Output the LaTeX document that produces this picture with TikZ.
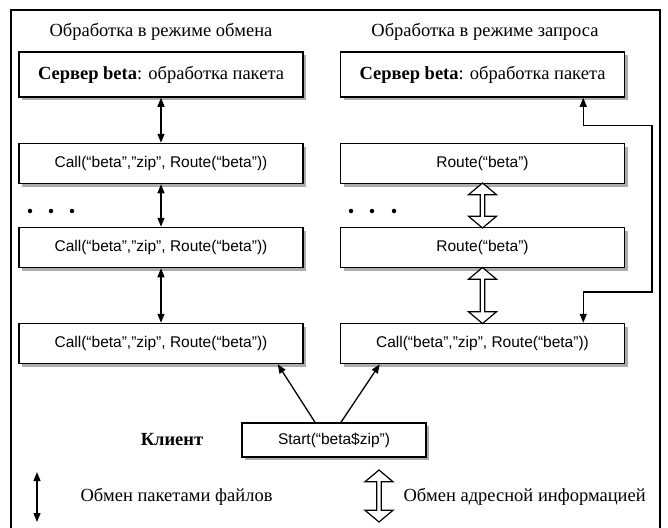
\documentclass[tikz,border=0pt]{standalone}
\usepackage{fontspec}
\setmainfont{Liberation Serif}
\setsansfont{Liberation Sans}
\usepackage{tikz}
\usetikzlibrary{shapes, arrows.meta, calc, shadows}

\begin{document}
\begin{tikzpicture}[
      x=1pt, y=-1pt,
      every node/.style={font=\fontsize{18.5}{20}\selectfont},
      box/.style={draw, line width=1.5pt, fill=white, minimum width=284pt, minimum height=40pt, inner sep=0pt,
        drop shadow={fill=gray!65, opacity=1, shadow xshift=3pt, shadow yshift=-3pt},
        font=\sffamily\fontsize{15.5}{18}\selectfont},
      srvbox/.style={box, minimum height=45pt, font=\fontsize{18.5}{20}\selectfont},
      fileflow/.style={{Triangle[width=7pt,length=9pt]}-{Triangle[width=7pt,length=9pt]}, line width=1.3pt},
      addrflow/.style={double arrow, draw, line width=1.2pt, fill=white, rotate=90, inner sep=0pt,
        minimum width=28pt, double arrow head extend=3pt, double arrow tip angle=100},
      dot/.style={circle, fill=black, inner sep=0pt, minimum size=4.5pt}
    ]
    \useasboundingbox (0,0) rectangle (668,527);
    % frame, open at the bottom
    \draw[line width=2pt] (11,530) -- (11,10) -- (660,10) -- (660,530);

    % headings
    \node (headl) at (161,32) {Обработка в режиме обмена};
    \node (headr) at (485,32) {Обработка в режиме запроса};

    % exchange mode column
    \node[srvbox] (srvl) at (161,74.5) {\textbf{Сервер beta}: обработка пакета};
    \node[box] (calla) at (161,163.5) {Call(“beta”,”zip”, Route(“beta”))};
    \node[box] (callb) at (161,247.5) {Call(“beta”,”zip”, Route(“beta”))};
    \node[box] (callc) at (161,343.5) {Call(“beta”,”zip”, Route(“beta”))};
    \foreach \x in {30,51,72} \node[dot] at (\x,211) {};
    \draw[fileflow] (srvl.south) -- (calla.north);
    \draw[fileflow] (calla.south) -- (callb.north);
    \draw[fileflow] (callb.south) -- (callc.north);

    % request mode column
    \node[srvbox] (srvr) at (482.5,74.5) {\textbf{Сервер beta}: обработка пакета};
    \node[box] (routea) at (482.5,163.5) {Route(“beta”)};
    \node[box] (routeb) at (482.5,247.5) {Route(“beta”)};
    \node[box] (callr) at (482.5,343.5) {Call(“beta”,”zip”, Route(“beta”))};
    \foreach \x in {351,372,394} \node[dot] at (\x,211) {};
    \node[addrflow, minimum height=45pt] at ($(routea.south)!0.5!(routeb.north)$) {};
    \node[addrflow, minimum height=56pt] at ($(routeb.south)!0.5!(callr.north)$) {};
    \draw[fileflow] ([xshift=-42pt]srvr.south east) -- ++(0,28) -| (652,292) -| ([xshift=-42pt]callr.north east);

    % client
    \node[box, minimum width=184pt, minimum height=34pt] (client) at (334,440) {Start(“beta\$zip”)};
    \node[font=\bfseries\fontsize{18.5}{20}\selectfont] (clientlbl) at (172,440) {Клиент};
    \draw[-{Triangle[width=7pt,length=9pt]}, line width=1.3pt] ([xshift=-19pt]client.north) -- ([xshift=-26pt]callc.south east);
    \draw[-{Triangle[width=7pt,length=9pt]}, line width=1.3pt] ([xshift=7pt]client.north) -- ([xshift=40pt]callr.south west);

    % legend
    \coordinate (lgtop) at (37,472);
    \coordinate (lgbot) at (37,522);
    \draw[fileflow] (lgtop) -- (lgbot);
    \node[anchor=west] (lgfile) at (77,497) {Обмен пакетами файлов};
    \node[addrflow, minimum height=52pt] (lgaddr) at (379,496) {};
    \node[anchor=west] (lgaddrtxt) at (400,497) {Обмен адресной информацией};
  \end{tikzpicture}
\end{document}
